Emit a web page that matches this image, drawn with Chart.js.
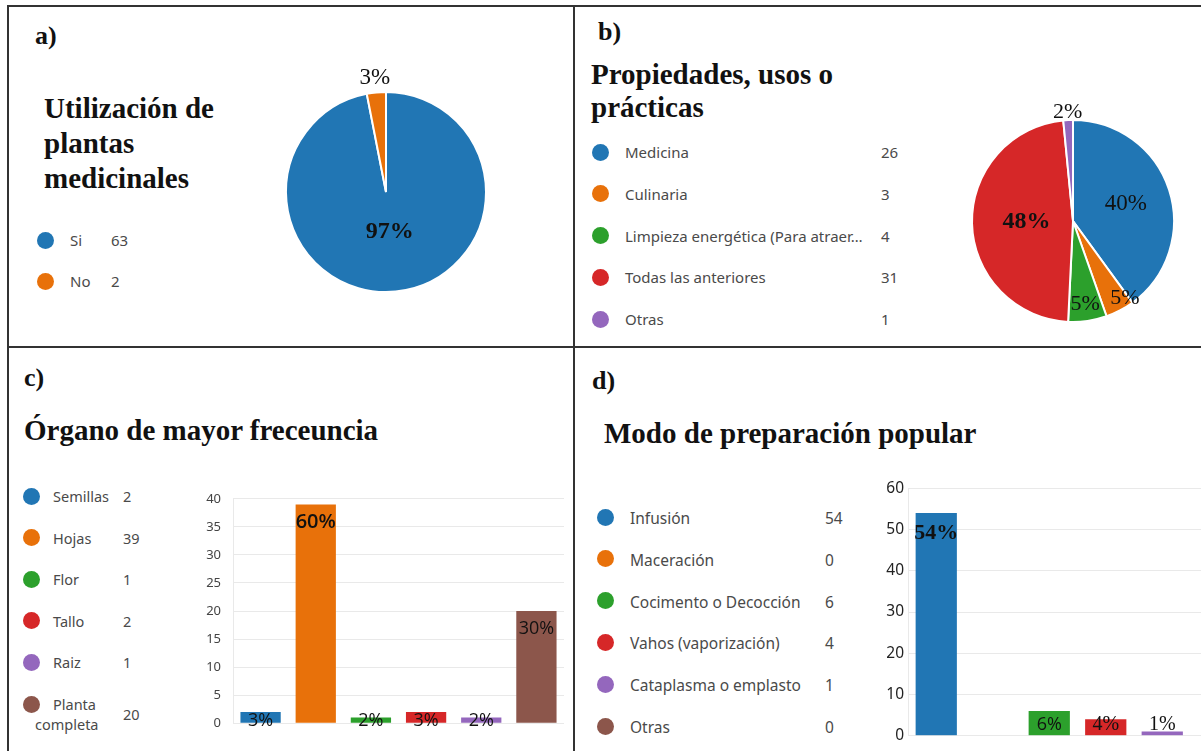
<!DOCTYPE html>
<html>
<head>
<meta charset="utf-8">
<script src="https://cdn.jsdelivr.net/npm/chart.js@4/dist/chart.umd.min.js"></script>
<style>
  html, body { margin:0; padding:0; width:1201px; height:751px; overflow:hidden; background:#fff; }
  .line { position:absolute; background:#333; }
  .tag, .title { position:absolute; font-family:"Liberation Serif", serif; font-weight:bold; color:#111; white-space:nowrap; }
  .tag { font-size:26px; line-height:28px; }
  .title { font-size:29px; line-height:34px; }
  .dot { position:absolute; width:17px; height:17px; border-radius:50%; }
  .lrow { position:absolute; display:flex; align-items:center; font-family:"Noto Sans", sans-serif; color:#4a4a4a; }
  .lrow .lab { white-space:nowrap; line-height:20px; }
  .lrow .val { white-space:nowrap; }
  canvas { position:absolute; }
</style>
</head>
<body>

<!-- frame -->
<div class="line" style="left:7px;top:5px;width:1194px;height:2px"></div>
<div class="line" style="left:7px;top:5px;width:2px;height:746px"></div>
<div class="line" style="left:573px;top:5px;width:2px;height:746px"></div>
<div class="line" style="left:7px;top:346px;width:1194px;height:2px"></div>

<div class="tag" style="left:35px;top:22px">a)</div>
<div class="tag" style="left:598px;top:18px">b)</div>
<div class="tag" style="left:24px;top:364px">c)</div>
<div class="tag" style="left:592px;top:367px">d)</div>

<div class="title" style="left:44px;top:91px;line-height:35px">Utilización de<br>plantas<br>medicinales</div>
<div class="title" style="left:591px;top:58px;line-height:33px">Propiedades, usos o<br>prácticas</div>
<div class="title" style="left:24px;top:413px">Órgano de mayor freceuncia</div>
<div class="title" style="left:604px;top:416px">Modo de preparación popular</div>

<canvas id="pieA" width="240" height="260" style="left:266px;top:62px"></canvas>
<canvas id="pieB" width="240" height="260" style="left:953px;top:91px"></canvas>
<canvas id="barC" width="371" height="264" style="left:193px;top:479px"></canvas>
<canvas id="barD" width="379" height="274" style="left:868px;top:475px"></canvas>

<div id="legA"></div>
<div id="legB"></div>
<div id="legC"></div>
<div id="legD"></div>

<script>
// colours shared by all four panels
const palette = ['#2176b4', '#e8710a', '#2ca02c', '#d62728', '#9467bd', '#8c564b'];

// a) Utilización de plantas medicinales
const aLabels = ['Si', 'No'];
const aValues = [63, 2];
const aPct = ['97%', '3%'];

// b) Propiedades, usos o prácticas
const bLabels = ['Medicina', 'Culinaria', 'Limpieza energética (Para atraer…', 'Todas las anteriores', 'Otras'];
const bValues = [26, 3, 4, 31, 1];
const bPct = ['40%', '5%', '5%', '48%', '2%'];

// c) Órgano de mayor frecuencia
const cLabels = ['Semillas', 'Hojas', 'Flor', 'Tallo', 'Raiz', 'Planta completa'];
const cValues = [2, 39, 1, 2, 1, 20];
const cPct = ['3%', '60%', '2%', '3%', '2%', '30%'];
const cTicks = [0, 5, 10, 15, 20, 25, 30, 35, 40];

// d) Modo de preparación popular
const dLabels = ['Infusión', 'Maceración', 'Cocimento o Decocción', 'Vahos (vaporización)', 'Cataplasma o emplasto', 'Otras'];
const dValues = [54, 0, 6, 4, 1, 0];
const dPct = ['54%', '', '6%', '4%', '1%', ''];
const dTicks = [0, 10, 20, 30, 40, 50, 60];

Chart.defaults.animation = false;
Chart.defaults.responsive = false;
Chart.defaults.plugins.legend.display = false;
Chart.defaults.plugins.tooltip.enabled = false;

/* ---------- legend rows (html) ---------- */
function buildLegend(id, labels, values, cfg){
  const box = document.getElementById(id);
  labels.forEach((lab, i)=>{
    const y = cfg.y0 + i*cfg.step;
    const dot = document.createElement('div');
    dot.className = 'dot';
    dot.style.left = (cfg.cx - 8.5) + 'px';
    dot.style.top = (y - 8.5) + 'px';
    dot.style.background = palette[i];
    box.appendChild(dot);

    const row = document.createElement('div');
    row.className = 'lrow';
    row.style.left = cfg.lx + 'px';
    row.style.top = (y - 10) + 'px';
    row.style.fontSize = cfg.size + 'px';
    const l = document.createElement('div');
    l.className = 'lab';
    l.style.width = (cfg.vx - cfg.lx) + 'px';
    if(cfg.indent){ l.style.textIndent = cfg.indent + 'px'; l.style.whiteSpace = 'normal'; }
    l.textContent = lab;
    const v = document.createElement('div');
    v.className = 'val';
    v.textContent = values[i];
    row.appendChild(l); row.appendChild(v);
    box.appendChild(row);
  });
}
buildLegend('legA', aLabels, aValues, {y0:240, step:41, cx:45, lx:70, vx:111, size:15});
buildLegend('legB', bLabels, bValues, {y0:152, step:41.75, cx:600, lx:625, vx:881, size:15});
buildLegend('legC', cLabels, cValues, {y0:496, step:41.6, cx:31, lx:35, vx:123, size:14.5, indent:18});
buildLegend('legD', dLabels, dValues, {y0:517, step:41.8, cx:605, lx:630, vx:825, size:15.5});

/* ---------- percentage labels on slices / bars ---------- */
const pctLabels = {
  id:'pctLabels',
  afterDatasetsDraw(chart, args, opts){
    const ctx = chart.ctx;
    const meta = chart.getDatasetMeta(0);
    meta.data.forEach((el, i)=>{
      const t = opts.texts[i];
      if(!t) return;
      let x, y;
      if(chart.config.type === 'pie'){
        const p = el.getProps(['x','y','startAngle','endAngle','outerRadius']);
        const a = (p.startAngle + p.endAngle)/2 + (opts.turn ? opts.turn[i] : 0);
        x = p.x + Math.cos(a)*p.outerRadius*opts.dist[i];
        y = p.y + Math.sin(a)*p.outerRadius*opts.dist[i];
      } else {
        const p = el.getProps(['x','y','base']);
        x = p.x;
        y = Math.min(p.y + opts.offset, p.base - opts.lift);
      }
      ctx.save();
      ctx.font = opts.fonts[i];
      ctx.fillStyle = '#111';
      ctx.textAlign = 'center';
      ctx.textBaseline = 'middle';
      ctx.fillText(t, x, y);
      ctx.restore();
    });
  }
};

const serifB = 'bold 24px "Liberation Serif"';
const serif = '23px "Liberation Serif"';
const serif22 = '22px "Liberation Serif"';

function pie(id, labels, values, texts, dist, turn, fonts, r){
  return new Chart(document.getElementById(id), {
    type:'pie',
    data:{labels:labels, datasets:[{data:values, backgroundColor:palette.slice(0, values.length), borderColor:'#fff', borderWidth:2, radius:r}]},
    options:{plugins:{pctLabels:{texts:texts, dist:dist, turn:turn, fonts:fonts}}},
    plugins:[pctLabels]
  });
}
pie('pieA', aLabels, aValues, aPct, [0.4, 1.15], [0, 0], [serifB, serif], 100);
pie('pieB', bLabels, bValues, bPct, [0.55, 0.92, 0.83, 0.46, 1.08], [0, -0.11, 0, 0, 0],
  [serif, serif22, serif22, serifB, serif22], 101);

function bars(id, labels, values, texts, ticks, cfg){
  return new Chart(document.getElementById(id), {
    type:'bar',
    data:{labels:labels, datasets:[{data:values, backgroundColor:palette, borderWidth:0, barPercentage:0.73, categoryPercentage:1}]},
    options:{
      layout:{padding:{top:10, bottom:10, left:0, right:0}},
      scales:{
        x:{display:false},
        y:{
          min:0, max:ticks[ticks.length-1],
          afterFit:s=>{ s.width = 40; },
          afterBuildTicks:s=>{ s.ticks = ticks.map(v=>({value:v})); },
          grid:{color:'#e9e9e9', drawTicks:false},
          border:{color:'#e9e9e9'},
          ticks:{padding:cfg.pad, color:cfg.tickColor, font:{family:'Noto Sans', size:cfg.tickSize}}
        }
      },
      plugins:{pctLabels:{texts:texts, fonts:cfg.fonts, offset:cfg.offset, lift:cfg.lift}}
    },
    plugins:[pctLabels]
  });
}
const sans18 = '18px "Open Sans"';
bars('barC', cLabels, cValues, cPct, cTicks, {pad:12, tickColor:'#444', tickSize:13, offset:18, lift:2,
  fonts:[sans18, '600 20px "Open Sans"', sans18, sans18, sans18, sans18]});
bars('barD', dLabels, dValues, dPct, dTicks, {pad:4, tickColor:'#222', tickSize:15.5, offset:20, lift:10,
  fonts:['bold 22px "Liberation Serif"', '', sans18, '20px "Liberation Serif"', '20px "Liberation Serif"', '']});
</script>
</body>
</html>
